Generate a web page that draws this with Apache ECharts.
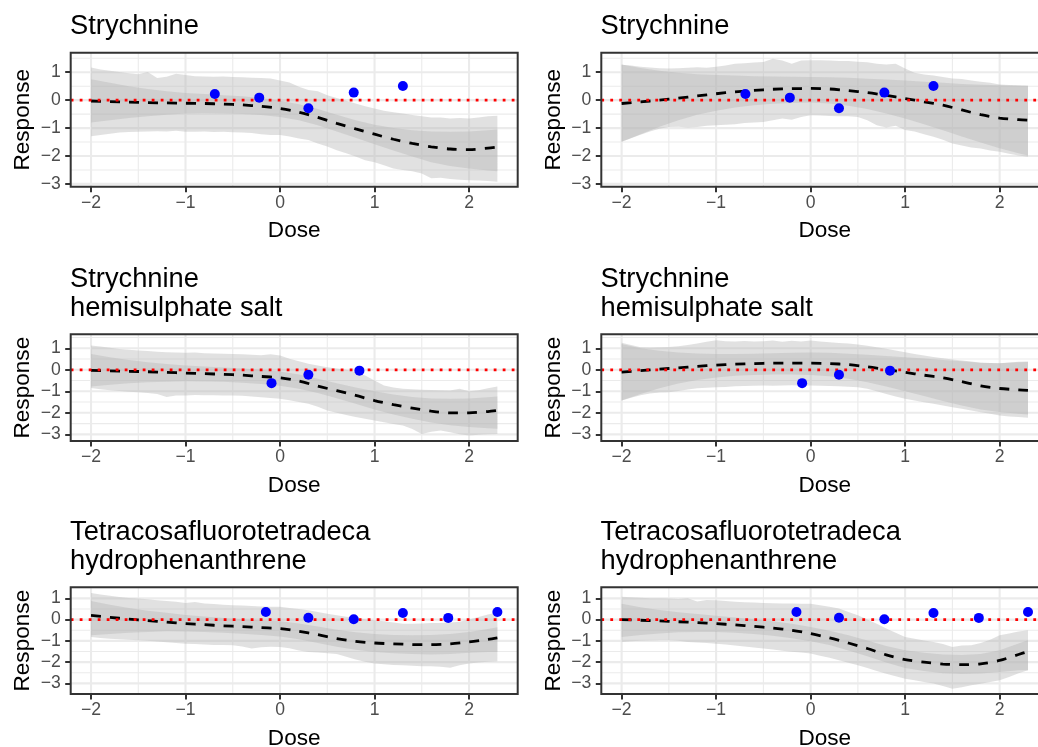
<!DOCTYPE html>
<html><head><meta charset="utf-8">
<script src="https://cdn.jsdelivr.net/npm/echarts@6/dist/echarts.min.js"></script>
<style>html,body{margin:0;padding:0;background:#fff}#c{width:1038px;height:747px}</style>
</head><body><div id="c"></div><script>
// ---------- data ----------
const xFine = [-2.0,-1.9,-1.8,-1.7,-1.6,-1.5,-1.4,-1.3,-1.2,-1.1,-1.0,-0.9,-0.8,-0.7,-0.6,-0.5,-0.4,-0.3,-0.2,-0.1,0.0,0.1,0.2,0.3,0.4,0.5,0.6,0.7,0.8,0.9,1.0,1.1,1.2,1.3,1.4,1.5,1.6,1.7,1.8,1.9,2.0,2.1,2.2,2.3];
const xCoarse = [-2.0,-1.8,-1.6,-1.4,-1.2,-1.0,-0.8,-0.6,-0.4,-0.2,0.0,0.2,0.4,0.6,0.8,1.0,1.2,1.4,1.6,1.8,2.0,2.2,2.3];
const xTicks = [-2,-1,0,1,2];
const xMinor = [-1.5,-0.5,0.5,1.5];
const yTicks = [-3,-2,-1,0,1];
const yMinor = [-2.5,-1.5,-0.5,0.5,1.5];
const titles = ['Strychnine','Strychnine','Strychnine\nhemisulphate salt','Strychnine\nhemisulphate salt','Tetracosafluorotetradeca\nhydrophenanthrene','Tetracosafluorotetradeca\nhydrophenanthrene'];
const xName = 'Dose';
const yName = 'Response';

// observed points
const ptsX_A = [-0.69,-0.22,0.30,0.78,1.30];
const ptsY_A = [0.22,0.09,-0.29,0.27,0.51];
const ptsX_B = [-0.09,0.30,0.84];
const ptsY_B = [-0.62,-0.23,-0.04];
const ptsX_C = [-0.15,0.30,0.78,1.30,1.78,2.30];
const ptsY_C = [0.36,0.09,0.02,0.31,0.08,0.36];

// panel 1
const p1Line = [-0.03,-0.05,-0.07,-0.09,-0.10,-0.11,-0.12,-0.14,-0.17,-0.22,-0.30,-0.43,-0.62,-0.83,-1.03,-1.22,-1.40,-1.55,-1.67,-1.75,-1.77,-1.72,-1.68];
const p1InUp = [0.75,0.62,0.50,0.40,0.32,0.26,0.22,0.18,0.14,0.08,-0.02,-0.15,-0.32,-0.52,-0.72,-0.88,-1.00,-1.08,-1.12,-1.13,-1.12,-1.08,-1.05];
const p1InLo = [-0.80,-0.72,-0.64,-0.58,-0.52,-0.48,-0.47,-0.48,-0.50,-0.53,-0.60,-0.72,-0.90,-1.12,-1.35,-1.58,-1.80,-2.02,-2.22,-2.36,-2.45,-2.52,-2.55];
const p1OutUp = [1.17,1.10,1.05,1.01,0.96,0.93,1.01,0.79,0.84,0.95,0.90,0.86,0.85,0.84,0.85,0.83,0.82,0.80,0.79,0.78,0.70,0.63,0.48,0.36,0.32,0.18,0.08,-0.02,-0.12,-0.22,-0.30,-0.38,-0.43,-0.48,-0.53,-0.58,-0.62,-0.62,-0.66,-0.64,-0.66,-0.62,-0.58,-0.56];
const p1OutLo = [-1.29,-1.25,-1.20,-1.16,-1.14,-1.13,-1.12,-1.11,-1.12,-1.10,-1.13,-1.13,-1.12,-1.14,-1.13,-1.15,-1.16,-1.18,-1.22,-1.25,-1.25,-1.30,-1.37,-1.43,-1.55,-1.66,-1.79,-1.90,-2.02,-2.15,-2.22,-2.33,-2.45,-2.50,-2.55,-2.63,-2.80,-2.78,-2.82,-2.85,-2.87,-2.88,-2.90,-2.92];

// panel 2
const p2Line = [-0.12,-0.06,0.00,0.07,0.15,0.23,0.30,0.35,0.39,0.41,0.42,0.40,0.34,0.27,0.17,0.06,-0.06,-0.18,-0.35,-0.52,-0.64,-0.70,-0.72];
const p2InUp = [1.28,1.15,1.05,0.98,0.93,0.90,0.88,0.86,0.85,0.84,0.83,0.82,0.80,0.77,0.74,0.70,0.66,0.62,0.58,0.55,0.53,0.52,0.52];
const p2InLo = [-1.49,-1.22,-0.95,-0.72,-0.52,-0.38,-0.26,-0.18,-0.13,-0.10,-0.08,-0.12,-0.20,-0.32,-0.48,-0.66,-0.86,-1.08,-1.30,-1.52,-1.72,-1.90,-1.98];
const p2OutUp = [1.27,1.24,1.20,1.17,1.14,1.13,1.14,1.16,1.18,1.16,1.20,1.24,1.30,1.32,1.35,1.37,1.48,1.42,1.30,1.42,1.43,1.43,1.42,1.40,1.40,1.38,1.36,1.30,1.28,1.30,1.13,0.98,0.92,0.88,0.83,0.78,0.76,0.70,0.66,0.62,0.56,0.54,0.53,0.52];
const p2OutLo = [-1.49,-1.36,-1.24,-1.12,-1.02,-0.96,-0.95,-0.98,-0.96,-0.92,-0.90,-0.88,-0.86,-0.82,-0.80,-0.78,-0.72,-0.66,-0.70,-0.60,-0.54,-0.55,-0.57,-0.58,-0.58,-0.60,-0.72,-0.90,-0.98,-0.92,-1.07,-1.12,-1.22,-1.31,-1.42,-1.55,-1.62,-1.70,-1.73,-1.80,-1.85,-1.92,-1.98,-2.03];

// panel 3
const p3Line = [-0.03,-0.05,-0.07,-0.09,-0.12,-0.15,-0.18,-0.21,-0.25,-0.31,-0.37,-0.52,-0.76,-0.97,-1.19,-1.43,-1.62,-1.78,-1.92,-2.00,-2.00,-1.94,-1.89];
const p3InUp = [0.74,0.58,0.45,0.35,0.27,0.20,0.15,0.11,0.06,0.00,-0.08,-0.22,-0.42,-0.62,-0.82,-1.00,-1.15,-1.26,-1.33,-1.35,-1.33,-1.28,-1.24];
const p3InLo = [-0.78,-0.70,-0.63,-0.58,-0.55,-0.53,-0.54,-0.56,-0.60,-0.66,-0.74,-0.88,-1.08,-1.32,-1.58,-1.85,-2.08,-2.28,-2.45,-2.58,-2.66,-2.72,-2.74];
const p3OutUp = [1.13,1.08,1.03,0.97,0.93,0.90,0.87,0.84,0.82,0.80,0.79,0.80,0.77,0.76,0.75,0.74,0.72,0.70,0.68,0.72,0.66,0.51,0.40,0.28,0.20,0.12,0.06,0.00,-0.10,-0.26,-0.50,-0.73,-0.82,-0.88,-0.91,-0.93,-0.94,-0.95,-0.96,-0.88,-1.00,-0.95,-0.86,-0.78];
const p3OutLo = [-0.85,-0.90,-0.95,-0.99,-1.02,-1.04,-1.08,-1.12,-1.27,-1.20,-1.19,-1.17,-1.18,-1.18,-1.19,-1.19,-1.21,-1.24,-1.28,-1.31,-1.35,-1.42,-1.50,-1.58,-1.72,-1.89,-2.00,-2.10,-2.20,-2.28,-2.36,-2.44,-2.52,-2.59,-2.75,-2.98,-2.88,-2.82,-2.90,-3.00,-3.05,-3.02,-3.00,-2.98];

// panel 4
const p4Line = [-0.11,-0.04,0.03,0.09,0.16,0.22,0.26,0.29,0.31,0.31,0.31,0.29,0.24,0.14,0.01,-0.12,-0.25,-0.37,-0.55,-0.75,-0.87,-0.93,-0.96];
const p4InUp = [1.20,1.00,0.88,0.80,0.76,0.74,0.74,0.75,0.77,0.79,0.80,0.79,0.75,0.70,0.64,0.58,0.52,0.46,0.40,0.33,0.31,0.35,0.36];
const p4InLo = [-1.43,-1.12,-0.86,-0.64,-0.48,-0.36,-0.28,-0.24,-0.22,-0.22,-0.24,-0.30,-0.42,-0.58,-0.78,-1.00,-1.22,-1.45,-1.66,-1.84,-1.96,-2.04,-2.08];
const p4OutUp = [1.26,1.15,1.05,1.04,1.05,1.06,1.10,1.15,1.22,1.30,1.37,1.33,1.32,1.34,1.32,1.33,1.36,1.30,1.35,1.32,1.36,1.32,1.28,1.25,1.22,1.18,1.12,1.05,0.98,0.90,0.82,0.74,0.66,0.59,0.54,0.48,0.43,0.38,0.33,0.32,0.31,0.34,0.37,0.39];
const p4OutLo = [-1.43,-1.30,-1.18,-1.10,-1.06,-1.04,-0.98,-0.92,-0.86,-0.83,-0.81,-0.80,-0.76,-0.75,-0.74,-0.73,-0.74,-0.73,-0.72,-0.73,-0.73,-0.74,-0.75,-0.77,-0.79,-0.81,-0.88,-1.00,-1.12,-1.24,-1.35,-1.43,-1.51,-1.58,-1.66,-1.74,-1.81,-1.89,-1.97,-2.04,-2.12,-2.17,-2.20,-2.23];

// panel 5
const p5Line = [0.20,0.11,0.02,-0.05,-0.12,-0.19,-0.24,-0.29,-0.33,-0.38,-0.42,-0.55,-0.71,-0.89,-1.02,-1.10,-1.14,-1.17,-1.18,-1.14,-1.05,-0.93,-0.86];
const p5InUp = [0.88,0.70,0.55,0.42,0.32,0.22,0.15,0.08,0.02,-0.03,-0.08,-0.18,-0.32,-0.48,-0.60,-0.68,-0.72,-0.74,-0.73,-0.68,-0.58,-0.44,-0.36];
const p5InLo = [-0.74,-0.68,-0.62,-0.58,-0.55,-0.56,-0.58,-0.62,-0.67,-0.73,-0.80,-0.93,-1.10,-1.28,-1.42,-1.52,-1.58,-1.62,-1.64,-1.62,-1.56,-1.52,-1.52];
const p5OutUp = [1.25,1.18,1.12,1.06,1.02,0.99,0.96,0.91,0.88,0.84,0.78,0.83,0.76,0.73,0.70,0.67,0.66,0.64,0.62,0.61,0.60,0.55,0.50,0.44,0.36,0.28,0.20,0.13,0.08,0.02,-0.03,-0.08,-0.14,-0.19,-0.20,-0.18,-0.16,-0.16,-0.14,-0.10,0.00,0.12,0.24,0.33];
const p5OutLo = [-0.82,-0.86,-0.90,-0.93,-0.95,-0.97,-1.00,-1.03,-1.06,-1.10,-1.13,-1.15,-1.17,-1.19,-1.20,-1.21,-1.26,-1.36,-1.30,-1.28,-1.29,-1.35,-1.45,-1.52,-1.55,-1.58,-1.62,-1.75,-1.88,-1.98,-2.07,-2.10,-2.13,-2.15,-2.17,-2.19,-2.20,-2.22,-2.26,-2.15,-2.07,-2.02,-1.98,-1.96];

// panel 6
const p6Line = [0.00,-0.03,-0.06,-0.10,-0.14,-0.19,-0.25,-0.32,-0.40,-0.50,-0.66,-0.86,-1.10,-1.36,-1.66,-1.88,-2.00,-2.09,-2.12,-2.08,-1.92,-1.64,-1.50];
const p6InUp = [0.75,0.58,0.45,0.35,0.26,0.18,0.10,0.02,-0.08,-0.20,-0.35,-0.52,-0.74,-0.98,-1.24,-1.44,-1.56,-1.64,-1.66,-1.62,-1.44,-1.12,-0.97];
const p6InLo = [-0.82,-0.72,-0.65,-0.60,-0.58,-0.58,-0.62,-0.68,-0.76,-0.88,-1.02,-1.20,-1.45,-1.72,-2.02,-2.28,-2.42,-2.52,-2.56,-2.54,-2.46,-2.38,-2.38];
const p6OutUp = [1.07,1.05,1.03,1.01,1.00,0.99,0.97,1.00,0.85,0.92,0.91,0.88,0.84,0.82,0.80,0.78,0.77,0.76,0.76,0.75,0.75,0.68,0.60,0.52,0.36,0.20,0.00,-0.20,-0.42,-0.62,-0.82,-0.90,-0.98,-1.05,-1.15,-1.29,-1.22,-1.21,-1.10,-0.95,-0.74,-0.65,-0.56,-0.50];
const p6OutLo = [-1.05,-1.02,-0.99,-0.98,-0.97,-0.97,-1.00,-1.05,-1.08,-1.10,-1.13,-1.17,-1.22,-1.27,-1.31,-1.36,-1.41,-1.46,-1.51,-1.55,-1.60,-1.70,-1.80,-1.91,-2.03,-2.15,-2.28,-2.42,-2.55,-2.67,-2.78,-2.85,-2.93,-3.01,-3.12,-3.25,-3.18,-3.09,-3.02,-2.93,-2.85,-2.70,-2.52,-2.38];

// ---------- layout ----------
const X_MIN = -2.215, X_MAX = 2.515;
const rows = [
  {top: 52.7, height: 134, yMin: -3.10, yMax: 1.70, titleTop: 12.4},
  {top: 334.3, height: 106.7, yMin: -3.31, yMax: 1.65, titleTop: 265.4},
  {top: 587.3, height: 106.7, yMin: -3.50, yMax: 1.52, titleTop: 518.4}
];
const cols = [{left: 70.7, titleLeft: 70}, {left: 601.3, titleLeft: 600.5}];
const PW = 447;

const panels = [
  {line: p1Line, inUp: p1InUp, inLo: p1InLo, outUp: p1OutUp, outLo: p1OutLo, px: ptsX_A, py: ptsY_A},
  {line: p2Line, inUp: p2InUp, inLo: p2InLo, outUp: p2OutUp, outLo: p2OutLo, px: ptsX_A, py: ptsY_A},
  {line: p3Line, inUp: p3InUp, inLo: p3InLo, outUp: p3OutUp, outLo: p3OutLo, px: ptsX_B, py: ptsY_B},
  {line: p4Line, inUp: p4InUp, inLo: p4InLo, outUp: p4OutUp, outLo: p4OutLo, px: ptsX_B, py: ptsY_B},
  {line: p5Line, inUp: p5InUp, inLo: p5InLo, outUp: p5OutUp, outLo: p5OutLo, px: ptsX_C, py: ptsY_C},
  {line: p6Line, inUp: p6InUp, inLo: p6InLo, outUp: p6OutUp, outLo: p6OutLo, px: ptsX_C, py: ptsY_C}
];

const FONT = 'Liberation Sans, Arial, Helvetica, sans-serif';
const fmt = v => (v < 0 ? '\u2212' + Math.abs(v) : String(v));
const bandFill = 'rgba(179,179,179,0.4)';

const grids = [], xAxes = [], yAxes = [], series = [], titleArr = [];

panels.forEach((p, i) => {
  const r = rows[Math.floor(i / 2)], c = cols[i % 2];
  grids.push({left: c.left, top: r.top, width: PW, height: r.height, containLabel: false, show: false, outerBoundsMode: 'none'});
  xAxes.push({
    type: 'value', gridIndex: i, min: X_MIN, max: X_MAX,
    name: xName, nameLocation: 'middle', nameGap: 33,
    nameTextStyle: {fontSize: 22.6, color: '#000', fontFamily: FONT},
    axisLine: {show: false, onZero: false},
    axisTick: {show: true, customValues: xTicks, length: 5.5, lineStyle: {color: '#333', width: 2}},
    axisLabel: {customValues: xTicks, formatter: fmt, fontSize: 17.6, color: '#4D4D4D', fontFamily: FONT, margin: 7.5},
    splitLine: {show: false}
  });
  yAxes.push({
    type: 'value', gridIndex: i, min: r.yMin, max: r.yMax,
    name: yName, nameLocation: 'middle', nameGap: 36, nameRotate: 90,
    nameTextStyle: {fontSize: 22.6, color: '#000', fontFamily: FONT},
    axisLine: {show: false, onZero: false},
    axisTick: {show: true, customValues: yTicks, length: 5.5, lineStyle: {color: '#333', width: 2}},
    axisLabel: {customValues: yTicks, formatter: fmt, fontSize: 17.6, color: '#4D4D4D', fontFamily: FONT, margin: 10},
    splitLine: {show: false}
  });
  titleArr.push({
    text: titles[i], left: c.titleLeft, top: r.titleTop, padding: 0,
    textStyle: {fontSize: 27.3, fontWeight: 'normal', color: '#000', fontFamily: FONT, lineHeight: 28.8}
  });

  const base = {xAxisIndex: i, yAxisIndex: i, silent: true, animation: false};
  // grid lines
  series.push(Object.assign({}, base, {
    type: 'custom', z: 1, data: [[0, 0]], encode: {x: 0, y: 1},
    renderItem: (params, api) => {
      const kids = [];
      const vline = (v, w) => { const a = api.coord([v, r.yMin]), b = api.coord([v, r.yMax]);
        kids.push({type: 'line', shape: {x1: a[0], y1: a[1], x2: b[0], y2: b[1]}, style: {stroke: '#EBEBEB', lineWidth: w}}); };
      const hline = (v, w) => { const a = api.coord([X_MIN, v]), b = api.coord([X_MAX, v]);
        kids.push({type: 'line', shape: {x1: a[0], y1: a[1], x2: b[0], y2: b[1]}, style: {stroke: '#EBEBEB', lineWidth: w}}); };
      xMinor.forEach(v => vline(v, 1.1)); yMinor.forEach(v => hline(v, 1.1));
      xTicks.forEach(v => vline(v, 2.1)); yTicks.forEach(v => hline(v, 2.1));
      return {type: 'group', children: kids};
    }
  }));
  // bands
  const band = (xs, up, lo, z) => Object.assign({}, base, {
    type: 'custom', z: z, data: [[0, 0]], encode: {x: 0, y: 1},
    renderItem: (params, api) => {
      const pts = [];
      for (let k = 0; k < xs.length; k++) pts.push(api.coord([xs[k], up[k]]));
      for (let k = xs.length - 1; k >= 0; k--) pts.push(api.coord([xs[k], lo[k]]));
      return {type: 'polygon', shape: {points: pts}, style: {fill: bandFill}};
    }
  });
  series.push(band(xFine, p.outUp, p.outLo, 2));
  series.push(band(xCoarse, p.inUp, p.inLo, 3));
  // mean line
  series.push(Object.assign({}, base, {
    type: 'line', z: 4, showSymbol: false, smooth: 0.3,
    data: xCoarse.map((x, k) => [x, p.line[k]]),
    lineStyle: {color: '#000', width: 2.8, type: [10, 9], cap: 'butt'}
  }));
  // zero reference line
  series.push(Object.assign({}, base, {
    type: 'custom', z: 5, data: [[0, 0]], encode: {x: 0, y: 1},
    renderItem: (params, api) => {
      const a = api.coord([X_MIN, 0]), b = api.coord([X_MAX, 0]);
      return {type: 'line', shape: {x1: a[0], y1: a[1], x2: b[0], y2: b[1]},
        style: {stroke: '#FF0000', lineWidth: 2.8, lineDash: [2.8, 6.2], lineCap: 'butt'}};
    }
  }));
  // points
  series.push(Object.assign({}, base, {
    type: 'scatter', z: 6, symbol: 'circle', symbolSize: 10,
    itemStyle: {color: '#0000FF', opacity: 1},
    data: p.px.map((x, k) => [x, p.py[k]])
  }));
  // panel border
  series.push(Object.assign({}, base, {
    type: 'custom', z: 7, data: [[0, 0]], encode: {x: 0, y: 1},
    renderItem: (params, api) => {
      const a = api.coord([X_MIN, r.yMax]), b = api.coord([X_MAX, r.yMin]);
      return {type: 'rect', shape: {x: a[0], y: a[1], width: b[0] - a[0], height: b[1] - a[1]},
        style: {fill: 'none', stroke: '#333333', lineWidth: 2}};
    }
  }));
});

const chart = echarts.init(document.getElementById('c'), null, {renderer: 'canvas'});
chart.setOption({
  animation: false,
  backgroundColor: '#fff',
  title: titleArr,
  grid: grids, xAxis: xAxes, yAxis: yAxes, series: series
});
</script></body></html>
